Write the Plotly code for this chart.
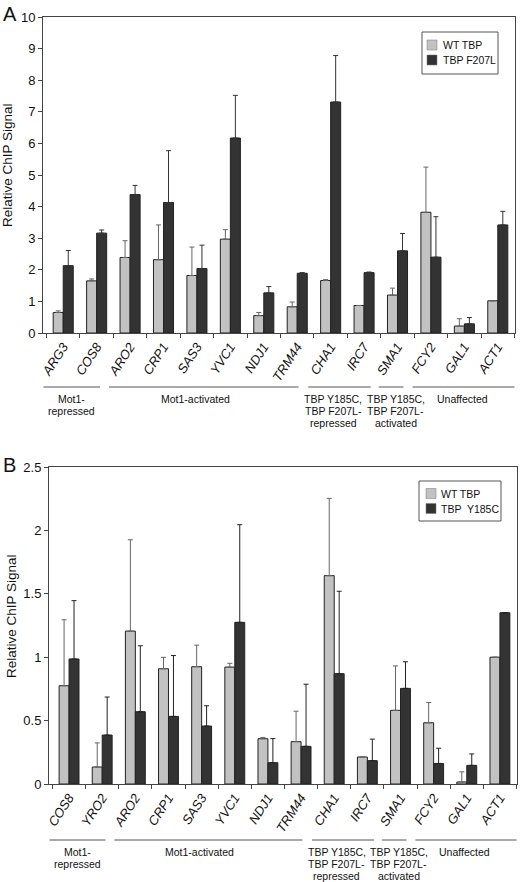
import plotly.graph_objects as go

# ---------------- data ----------------
genes_A = ["ARG3", "COS8", "ARO2", "CRP1", "SAS3", "YVC1", "NDJ1", "TRM44",
           "CHA1", "IRC7", "SMA1", "FCY2", "GAL1", "ACT1"]
wt_A = [0.65, 1.65, 2.39, 2.32, 1.82, 2.97, 0.55, 0.83, 1.66, 0.87, 1.20, 3.82, 0.22, 1.02]
wt_A_err = [0.05, 0.06, 0.53, 1.10, 0.90, 0.30, 0.10, 0.15, 0.03, None, 0.22, 1.43, 0.23, None]
f207l_A = [2.13, 3.16, 4.38, 4.13, 2.04, 6.17, 1.27, 1.89, 7.31, 1.91, 2.60, 2.40, 0.29, 3.42]
f207l_A_err = [0.48, 0.10, 0.29, 1.64, 0.74, 1.35, 0.20, 0.02, 1.47, 0.02, 0.55, 1.28, 0.20, 0.43]

genes_B = ["COS8", "YRO2", "ARO2", "CRP1", "SAS3", "YVC1", "NDJ1", "TRM44",
           "CHA1", "IRC7", "SMA1", "FCY2", "GAL1", "ACT1"]
wt_B = [0.775, 0.134, 1.206, 0.909, 0.925, 0.922, 0.357, 0.334, 1.643, 0.213, 0.581, 0.483, 0.016, 1.00]
wt_B_err = [0.52, 0.19, 0.72, 0.09, 0.17, 0.03, 0.01, 0.24, 0.61, None, 0.35, 0.16, 0.08, None]
y185c_B = [0.986, 0.386, 0.570, 0.533, 0.457, 1.275, 0.168, 0.297, 0.870, 0.184, 0.754, 0.162, 0.147, 1.351]
y185c_B_err = [0.46, 0.30, 0.52, 0.48, 0.16, 0.77, 0.19, 0.49, 0.65, 0.17, 0.21, 0.12, 0.09, None]

series_A = ["WT TBP", "TBP F207L"]
series_B = ["WT TBP", "TBP  Y185C"]

# groups: (label lines, first category index, last category index)
groups = [
    (["Mot1-", "repressed"], 0, 1),
    (["Mot1-activated"], 2, 7),
    (["TBP Y185C,", "TBP F207L-", "repressed"], 8, 9),
    (["TBP Y185C,", "TBP F207L-", "activated"], 10, 10),
    (["Unaffected"], 11, 13),
]

# ---------------- style / layout ----------------
W, H = 520, 882
FONT = "Liberation Sans, Arial, sans-serif"
LIGHT = "#c2c2c2"
DARK = "#333333"
EDGE = "#222222"
AXC = "#444444"
TXT = "#111111"
# horizontal nudge of each group caption (category units), and bracket extents
GROUP_TEXT_SHIFT = [-0.26, -0.55, -0.42, -0.06, -0.07]
BRACKET_LEFT = [-0.59, -0.63, -0.67, -0.56, -0.55]
BRACKET_RIGHT = [0.10, 0.04, 0.20, 0.18, 0.50]


def px_x(p):
    return p / W


def px_y(p):
    return 1 - p / H


# panel pixel boxes: (left, right, top, bottom)
boxA = (43, 515, 17, 333)
boxB = (49, 517, 467, 784)

fig = go.Figure()


def add_bars(x, y, err, name, color, errcolor, xa, ya):
    fig.add_trace(go.Bar(
        x=x, y=y, name=name, xaxis=xa, yaxis=ya, showlegend=False,
        marker=dict(color=color, line=dict(color=EDGE, width=1)),
        error_y=dict(type="data", symmetric=False, array=err,
                     arrayminus=[0] * len(err), color=errcolor,
                     thickness=1, width=2.5),
    ))


add_bars(genes_A, wt_A, wt_A_err, series_A[0], LIGHT, "#666666", "x", "y")
add_bars(genes_A, f207l_A, f207l_A_err, series_A[1], DARK, "#333333", "x", "y")
add_bars(genes_B, wt_B, wt_B_err, series_B[0], LIGHT, "#666666", "x2", "y2")
add_bars(genes_B, y185c_B, y185c_B_err, series_B[1], DARK, "#222222", "x2", "y2")


def xaxis_cfg(box):
    return dict(
        domain=[px_x(box[0]), px_x(box[1])], type="category",
        tickson="boundaries", ticks="outside", ticklen=4, tickcolor=AXC,
        showline=True, linecolor=AXC, linewidth=1, mirror=True,
        tickangle=-57, showgrid=False, automargin=False,
        tickfont=dict(family=FONT, size=13, color=TXT, style="italic"),
    )


def yaxis_cfg(box, rng, dt):
    return dict(
        domain=[px_y(box[3]), px_y(box[2])], range=rng, dtick=dt,
        ticks="outside", ticklen=4, tickcolor=AXC,
        showline=True, linecolor=AXC, linewidth=1, mirror=True,
        showgrid=False, zeroline=False, automargin=False,
        tickfont=dict(family=FONT, size=13, color=TXT),
    )


xa = xaxis_cfg(boxA); xa["anchor"] = "y"
ya = yaxis_cfg(boxA, [0, 10], 1); ya["anchor"] = "x"
xb = xaxis_cfg(boxB); xb["anchor"] = "y2"
yb = yaxis_cfg(boxB, [0, 2.5], 0.5); yb["anchor"] = "x2"

shapes = []
annotations = []


def add_groups(xref, line_y_px):
    for g, (lines, first, last) in enumerate(groups):
        x0 = first + BRACKET_LEFT[g]
        x1 = last + BRACKET_RIGHT[g]
        shapes.append(dict(type="line", xref=xref, yref="paper",
                           x0=x0, x1=x1, y0=px_y(line_y_px), y1=px_y(line_y_px),
                           line=dict(color="#555555", width=1)))
        xc = (first + last) / 2 + GROUP_TEXT_SHIFT[g]
        for k, t in enumerate(lines):
            annotations.append(dict(xref=xref, yref="paper", x=xc,
                                    y=px_y(line_y_px + 11.5 + 12 * k),
                                    yanchor="middle", xanchor="center",
                                    text=t, showarrow=False,
                                    font=dict(family=FONT, size=10.5, color=TXT)))


add_groups("x", 387)
add_groups("x2", 840)


def add_legend(box, names, colors, sym_x, txt_x, rows_y):
    shapes.append(dict(type="rect", xref="paper", yref="paper",
                       x0=px_x(box[0]), x1=px_x(box[1]),
                       y0=px_y(box[3]), y1=px_y(box[2]),
                       line=dict(color="#555555", width=1), fillcolor="white"))
    for name, col, ry in zip(names, colors, rows_y):
        shapes.append(dict(type="rect", xref="paper", yref="paper",
                           x0=px_x(sym_x), x1=px_x(sym_x + 10),
                           y0=px_y(ry + 5), y1=px_y(ry - 5),
                           line=dict(color="#777777", width=0.5), fillcolor=col))
        annotations.append(dict(xref="paper", yref="paper", x=px_x(txt_x), y=px_y(ry),
                                xanchor="left", yanchor="middle", text=name,
                                showarrow=False,
                                font=dict(family=FONT, size=10.5, color=TXT)))


add_legend((422, 498, 32, 74), series_A, [LIGHT, DARK], 427, 441, [45, 60])
add_legend((419, 501, 481, 521), series_B, [LIGHT, DARK], 426, 439, [493.5, 508.5])

# y-axis titles
for yc, xc in ((165, 7), (616, 11)):
    annotations.append(dict(xref="paper", yref="paper", x=px_x(xc), y=px_y(yc),
                            xanchor="center", yanchor="middle", textangle=-90,
                            text="Relative ChIP Signal", showarrow=False,
                            font=dict(family=FONT, size=13.5, color=TXT)))

annotations.append(dict(xref="paper", yref="paper", x=px_x(1), y=px_y(1),
                        xanchor="left", yanchor="top", text="A", showarrow=False,
                        font=dict(family=FONT, size=20, color=TXT)))
annotations.append(dict(xref="paper", yref="paper", x=px_x(1), y=px_y(452),
                        xanchor="left", yanchor="top", text="B", showarrow=False,
                        font=dict(family=FONT, size=20, color=TXT)))

fig.update_layout(
    width=W, height=H, autosize=False,
    margin=dict(l=0, r=0, t=0, b=0),
    paper_bgcolor="white", plot_bgcolor="white",
    barmode="group", bargap=0.4, bargroupgap=0,
    xaxis=xa, yaxis=ya, xaxis2=xb, yaxis2=yb,
    showlegend=False,
    shapes=shapes, annotations=annotations,
    font=dict(family=FONT),
)

fig.write_html(
    "out.html",
    config={"displayModeBar": False},
    post_script="document.body.style.margin='0';document.body.style.overflow='hidden';",
)
